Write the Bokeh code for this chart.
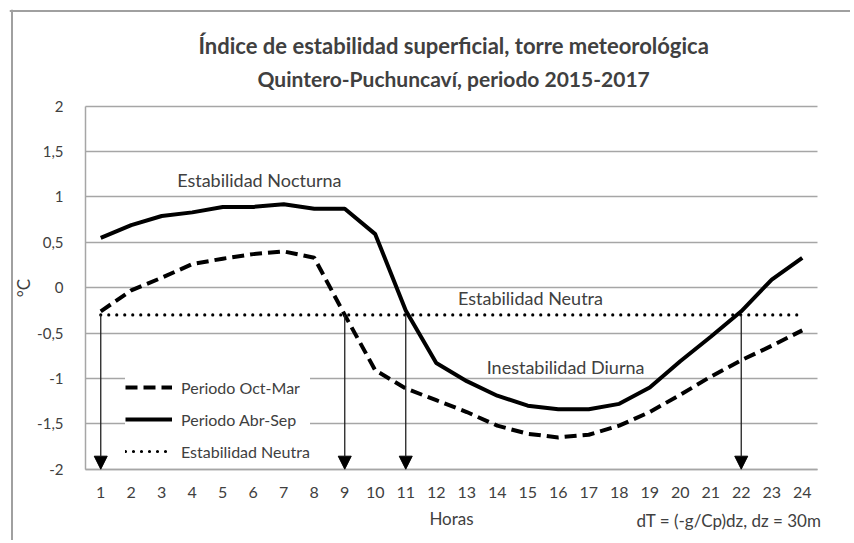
from bokeh.plotting import figure
from bokeh.models import (Range1d, FixedTicker, Label, Arrow, NormalHead, Legend, LegendItem, Span)
from bokeh.embed import file_html
from bokeh.resources import INLINE

# ---- data ----
hours = list(range(1, 25))
oct_mar = [-0.26, -0.03, 0.11, 0.26, 0.32, 0.37, 0.40, 0.33, -0.30, -0.91, -1.11, -1.24,
           -1.37, -1.52, -1.61, -1.65, -1.62, -1.52, -1.37, -1.18, -0.98, -0.80, -0.64, -0.47]
abr_sep = [0.55, 0.69, 0.79, 0.83, 0.89, 0.89, 0.92, 0.87, 0.87, 0.59, -0.25, -0.83,
           -1.03, -1.19, -1.30, -1.34, -1.34, -1.28, -1.10, -0.81, -0.54, -0.26, 0.09, 0.33]
neutral = [-0.30] * 24
arrow_hours = [1, 9, 11, 22]
y_ticks = [-2, -1.5, -1, -0.5, 0, 0.5, 1, 1.5, 2]
y_tick_labels = ["-2", "-1,5", "-1", "-0,5", "0", "0,5", "1", "1,5", "2"]
series_names = ["Periodo Oct-Mar", "Periodo Abr-Sep", "Estabilidad Neutra"]
title_lines = ["Índice de estabilidad superficial, torre meteorológica",
               "Quintero-Puchuncaví, periodo 2015-2017"]
note_texts = ["Estabilidad Nocturna", "Estabilidad Neutra", "Inestabilidad Diurna"]
note_x = [6.2, 15.09, 16.24]
note_y = [1.185, -0.112, -0.876]
formula_text = "dT = (-g/Cp)dz, dz = 30m"

FONT = "Lato"
TXT = "#404040"
GRID = "#a6a6a6"

# view extents (layout): plot area spans hours 0.5..24.5 and values -2..2
X0, X1 = -1.9918, 25.582
Y0, Y1 = -2.7857, 3.0656

p = figure(width=850, height=540, output_backend="svg", toolbar_location=None,
           x_range=Range1d(X0, X1), y_range=Range1d(Y0, Y1),
           min_border_left=9, min_border_right=0, min_border_top=9, min_border_bottom=0)
p.outline_line_color = None
p.background_fill_color = "white"
p.border_fill_color = "white"

# chart frame lines (top and left)
p.add_layout(Span(location=-1.9098, dimension="height", line_color="#a0a0a0", line_width=2))
p.add_layout(Span(location=3.0491, dimension="width", line_color="#a0a0a0", line_width=2))

p.xgrid.grid_line_color = None
p.ygrid.grid_line_color = GRID
p.ygrid.grid_line_width = 1.5
p.ygrid.bounds = (-2, 2)
p.ygrid.cross_bounds = (0.5, 24.5)

p.xaxis.ticker = FixedTicker(ticks=hours)
p.yaxis.ticker = FixedTicker(ticks=y_ticks)
p.ygrid.ticker = FixedTicker(ticks=y_ticks)
p.yaxis.major_label_overrides = {t: l for t, l in zip(y_ticks, y_tick_labels)}
p.xaxis.fixed_location = -2
p.yaxis.fixed_location = 0.5
p.xaxis.bounds = (0.5, 24.5)
p.yaxis.bounds = (-2, 2)
for ax in (p.xaxis, p.yaxis):
    ax.axis_line_color = GRID
    ax.axis_line_width = 1.5
    ax.major_tick_line_color = None
    ax.minor_tick_line_color = None
    ax.major_label_text_font = FONT
    ax.major_label_text_font_size = "16px"
    ax.major_label_text_color = TXT
    ax.axis_label_text_font = FONT
    ax.axis_label_text_font_size = "17px"
    ax.axis_label_text_font_style = "normal"
    ax.axis_label_text_color = TXT
p.yaxis.major_label_text_font_size = "15px"
p.yaxis.major_label_standoff = 16
p.xaxis.major_label_standoff = 12
p.yaxis.axis_label = "°C"
p.xaxis.axis_label = "Horas"
p.yaxis.axis_label_standoff = 0
p.xaxis.axis_label_standoff = 6

r_oct = p.line(hours, oct_mar, line_color="black", line_width=4, line_dash="12 6")
r_abr = p.line(hours, abr_sep, line_color="black", line_width=4)
r_neu = p.line(hours, neutral, line_color="black", line_width=3.2, line_dash="0 8", line_cap="round")

for h in arrow_hours:
    p.add_layout(Arrow(end=NormalHead(size=13, fill_color="black", line_color="black", line_width=1),
                       x_start=h, y_start=neutral[h - 1], x_end=h, y_end=-2,
                       line_color="#222222", line_width=1.3))

for t, x, y in zip(note_texts, note_x, note_y):
    p.add_layout(Label(x=x, y=y, text=t, text_align="center", text_baseline="middle",
                       text_font=FONT, text_font_size="18px", text_color=TXT))

for t, y, fs in zip(title_lines, [2.672, 2.309], ["22px", "21px"]):
    p.add_layout(Label(x=12.57, y=y, text=t, text_align="center", text_baseline="middle",
                       text_font=FONT, text_font_size=fs, text_font_style="bold",
                       text_color=TXT))

p.add_layout(Label(x=24.63, y=-2.562, text=formula_text, text_align="right",
                   text_baseline="middle", text_font=FONT, text_font_size="17px",
                   text_color=TXT))

legend = Legend(items=[LegendItem(label=series_names[0], renderers=[r_oct]),
                       LegendItem(label=series_names[1], renderers=[r_abr]),
                       LegendItem(label=series_names[2], renderers=[r_neu])],
                location=(116, 79), padding=8, spacing=12, margin=0,
                glyph_width=47, glyph_height=20, label_height=20, label_standoff=9,
                label_text_font=FONT, label_text_font_size="16px", label_text_color=TXT,
                border_line_color=None, background_fill_color="white", background_fill_alpha=1)
p.add_layout(legend)

open("out.html", "w").write(file_html(p, INLINE))
